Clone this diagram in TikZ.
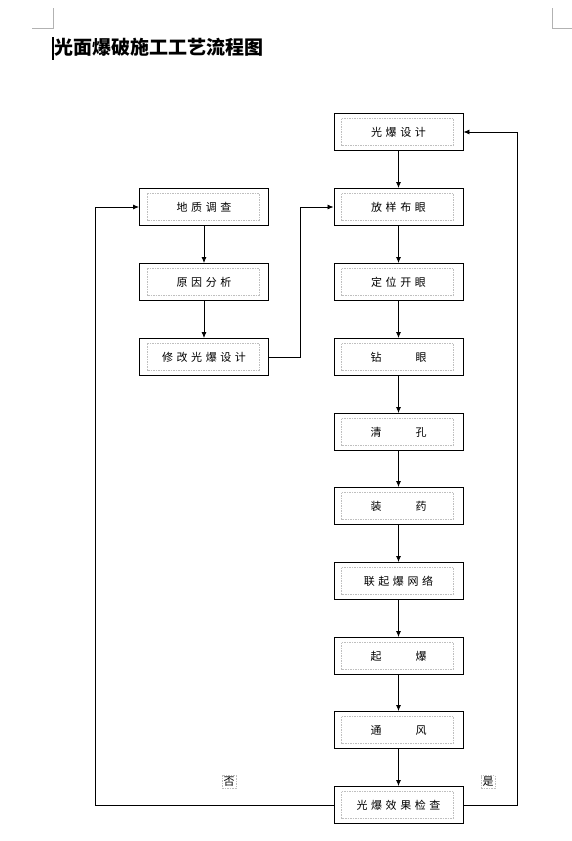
\documentclass[tikz,border=0pt]{standalone}
\usepackage{fontspec}
\newfontfamily\cjk{Noto Sans CJK SC}
\usetikzlibrary{arrows.meta,calc}
\newcommand{\csp}{\hspace{3.6pt}}
\begin{document}
\begin{tikzpicture}[x=1pt,y=-1pt,
  stepbox/.style={draw=black,line width=0.9pt,minimum width=129pt,minimum height=37pt,inner sep=0pt,font=\cjk\fontsize{11}{13}\selectfont},
  inner/.style={draw=black!25,dashed,dash pattern=on 1.5pt off 1pt,line width=0.8pt},
  conn/.style={draw=black,line width=0.8pt},
  arr/.style={conn,-{Latex[length=6pt,width=5pt]}},
  lab/.style={font=\cjk\fontsize{11}{13}\selectfont,inner sep=1.5pt,draw=black!25,dashed,dash pattern=on 1.5pt off 1pt,line width=0.8pt},
  cornermark/.style={draw=black!30,line width=0.8pt}]
\useasboundingbox (0,0) rectangle (572,841);
% page corner marks
\draw[cornermark] (53,8) -- (53,28) -- (32,28);
\draw[cornermark] (552,8) -- (552,28) -- (572,28);
% cursor
\draw[black,line width=1.2pt] (53,37) -- (53,60);
% title
\node[anchor=west,inner sep=0pt,font=\cjk\bfseries\fontsize{19}{21}\selectfont] (title) at (54,47) {光面爆破施工工艺流程图};
% right column
\node[stepbox] (a1) at (398.5,132) {光\csp 爆\csp 设\csp 计};
\node[stepbox] (a2) at (398.5,207) {放\csp 样\csp 布\csp 眼};
\node[stepbox] (a3) at (398.5,282) {定\csp 位\csp 开\csp 眼};
\node[stepbox] (a4) at (398.5,357) {钻\hspace{34pt}眼};
\node[stepbox] (a5) at (398.5,432) {清\hspace{34pt}孔};
\node[stepbox] (a6) at (398.5,506) {装\hspace{34pt}药};
\node[stepbox] (a7) at (398.5,581) {联\csp 起\csp 爆\csp 网\csp 络};
\node[stepbox] (a8) at (398.5,656) {起\hspace{34pt}爆};
\node[stepbox] (a9) at (398.5,730) {通\hspace{34pt}风};
\node[stepbox] (a10) at (398.5,805) {光\csp 爆\csp 效\csp 果\csp 检\csp 查};
% left column
\node[stepbox] (b1) at (204,207) {地\csp 质\csp 调\csp 查};
\node[stepbox] (b2) at (204,282) {原\csp 因\csp 分\csp 析};
\node[stepbox] (b3) at (204,357) {修\csp 改\csp 光\csp 爆\csp 设\csp 计};
% inner dashed frames
\foreach \n in {a1,a2,a3,a4,a5,a6,a7,a8,a9,a10,b1,b2,b3}
  \draw[inner] ($(\n.north west)+(8,5.5)$) rectangle ($(\n.south east)+(-10,-6)$);
% vertical arrows
\foreach \i [evaluate=\i as \j using int(\i+1)] in {1,...,9}
  \draw[arr] (a\i) -- (a\j);
\draw[arr] (b1) -- (b2);
\draw[arr] (b2) -- (b3);
% loops
\coordinate (c1) at (300,357);
\coordinate (c2) at (300,207);
\draw[arr] (b3.east) -- (c1) -- (c2) -- (a2.west);
\coordinate (d1) at (95,805);
\coordinate (d2) at (95,207);
\draw[arr] (a10.west) -- (d1) -- (d2) -- (b1.west);
\coordinate (e1) at (517,805);
\coordinate (e2) at (517,132);
\draw[arr] (a10.east) -- (e1) -- (e2) -- (a1.east);
% labels
\node[lab] (no) at (229,782) {否};
\node[lab] (yes) at (488,782) {是};
\end{tikzpicture}
\end{document}
